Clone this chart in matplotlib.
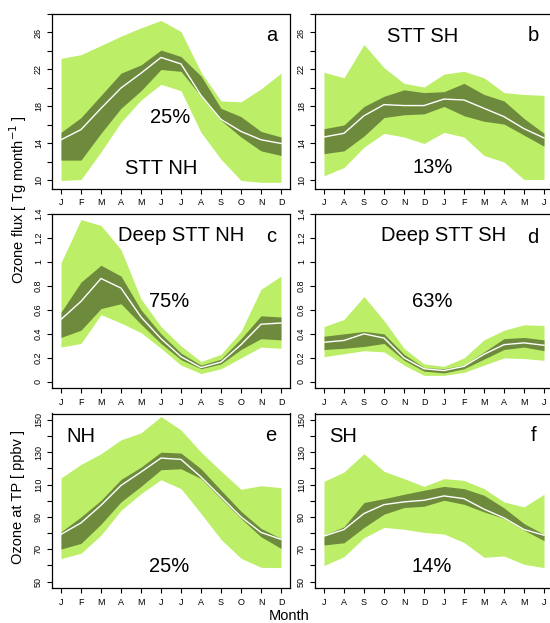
import matplotlib
matplotlib.use("Agg")
import matplotlib.pyplot as plt
import numpy as np

plt.rcParams['font.family'] = ['Liberation Sans', 'DejaVu Sans']

months_nh = ["J", "F", "M", "A", "M", "J", "J", "A", "S", "O", "N", "D"]
months_sh = ["J", "A", "S", "O", "N", "D", "J", "F", "M", "A", "M", "J"]

# Panel a: STT NH [Tg/month]
a_lo_out = [10.0, 10.1, 13.1, 16.3, 18.7, 20.4, 19.7, 15.2, 12.3, 10.0, 9.8, 9.8]
a_hi_out = [23.2, 23.6, 24.6, 25.6, 26.5, 27.3, 26.1, 21.7, 18.6, 18.5, 19.9, 21.6]
a_lo_in = [12.2, 12.2, 15.1, 17.8, 19.7, 22.0, 21.8, 19.1, 16.5, 14.7, 13.2, 12.7]
a_hi_in = [15.2, 16.8, 19.2, 21.6, 22.5, 24.1, 23.4, 21.3, 17.8, 16.9, 15.3, 14.7]
a_med = [14.4, 15.5, 17.8, 20.0, 21.6, 23.3, 22.6, 19.2, 16.6, 15.3, 14.4, 14.0]

# Panel b: STT SH
b_lo_out = [10.5, 11.4, 13.6, 15.1, 14.7, 14.0, 15.2, 14.7, 12.7, 12.0, 10.1, 10.1]
b_hi_out = [21.7, 21.1, 24.7, 22.2, 20.5, 20.1, 21.5, 21.8, 21.1, 19.5, 19.3, 19.2]
b_lo_in = [12.9, 13.2, 14.8, 16.8, 17.1, 17.2, 18.0, 17.0, 16.4, 16.1, 14.9, 13.7]
b_hi_in = [15.6, 16.0, 18.0, 19.1, 19.8, 19.5, 19.6, 20.5, 19.3, 18.6, 16.7, 15.1]
b_med = [14.7, 15.1, 17.0, 18.2, 18.1, 18.1, 18.8, 18.7, 17.8, 16.9, 15.6, 14.6]

# Panel c: Deep STT NH
c_lo_out = [0.29, 0.32, 0.56, 0.49, 0.41, 0.28, 0.14, 0.07, 0.11, 0.20, 0.29, 0.28]
c_hi_out = [0.99, 1.35, 1.30, 1.10, 0.69, 0.46, 0.30, 0.17, 0.23, 0.42, 0.77, 0.88]
c_lo_in = [0.37, 0.43, 0.61, 0.65, 0.48, 0.32, 0.185, 0.11, 0.15, 0.27, 0.36, 0.35]
c_hi_in = [0.58, 0.83, 0.97, 0.88, 0.60, 0.40, 0.24, 0.14, 0.19, 0.36, 0.55, 0.54]
c_med = [0.52, 0.67, 0.86, 0.78, 0.54, 0.36, 0.21, 0.12, 0.165, 0.31, 0.48, 0.49]

# Panel d: Deep STT SH
d_lo_out = [0.21, 0.235, 0.26, 0.25, 0.14, 0.055, 0.055, 0.08, 0.14, 0.20, 0.195, 0.18]
d_hi_out = [0.46, 0.52, 0.71, 0.51, 0.28, 0.15, 0.13, 0.20, 0.35, 0.43, 0.475, 0.47]
d_lo_in = [0.27, 0.28, 0.295, 0.32, 0.18, 0.09, 0.075, 0.11, 0.19, 0.27, 0.29, 0.26]
d_hi_in = [0.38, 0.40, 0.42, 0.40, 0.23, 0.12, 0.11, 0.14, 0.25, 0.36, 0.37, 0.35]
d_med = [0.33, 0.345, 0.40, 0.365, 0.20, 0.11, 0.095, 0.13, 0.23, 0.31, 0.325, 0.305]

# Panel e: Ozone at TP NH [ppbv]
e_lo_out = [64.2, 67.5, 78.7, 94.1, 104.4, 113.0, 107.5, 92.1, 76.1, 64.4, 58.8, 58.6]
e_hi_out = [114.1, 122.5, 129.1, 137.7, 142.0, 152.1, 143.8, 130.1, 118.4, 107.1, 109.3, 108.1]
e_lo_in = [70.1, 73.6, 85.5, 99.3, 108.9, 119.2, 119.8, 113.7, 101.3, 89.0, 77.7, 70.5]
e_hi_in = [80.8, 90.0, 100.3, 113.2, 120.8, 130.1, 129.5, 119.8, 106.5, 93.5, 82.9, 76.7]
e_med = [79.2, 86.3, 97.2, 109.5, 117.8, 126.4, 125.6, 114.7, 102.4, 90.0, 80.4, 76.1]

# Panel f: Ozone at TP SH
f_lo_out = [59.9, 65.4, 77.1, 83.5, 82.4, 80.4, 79.4, 74.2, 65.0, 65.8, 60.7, 58.6]
f_hi_out = [112.0, 117.8, 129.1, 118.2, 113.7, 108.9, 113.7, 112.6, 107.5, 99.3, 96.2, 104.0]
f_lo_in = [72.6, 74.0, 83.5, 91.7, 95.8, 96.6, 100.3, 97.8, 93.1, 89.0, 81.8, 75.3]
f_hi_in = [78.7, 83.9, 98.9, 101.3, 104.0, 106.5, 108.9, 107.5, 103.4, 95.6, 85.9, 79.2]
f_med = [78.1, 82.2, 92.1, 97.6, 99.3, 100.3, 103.0, 101.3, 94.8, 89.4, 82.2, 78.7]

light = "#BCEE68"
dark = "#6E8B3D"

W, H = 550, 623
fig = plt.figure(figsize=(W / 100, H / 100), dpi=100)

def axpos(left, top, w=238, h=174.5):
    return [left / W, 1 - (top + h) / H, w / W, h / H]

panels = [
    dict(pos=axpos(52, 14), m=months_nh, d=(a_lo_out, a_hi_out, a_lo_in, a_hi_in, a_med),
         ylim=(9.13, 28.0), ticks=np.arange(10, 29, 2), lab=[10, 14, 18, 22, 26],
         texts=[("25%", 0.496, 0.408), ("STT NH", 0.458, 0.115), ("a", 0.924, 0.874)]),
    dict(pos=axpos(315, 14), m=months_sh, d=(b_lo_out, b_hi_out, b_lo_in, b_hi_in, b_med),
         ylim=(9.13, 28.0), ticks=np.arange(10, 29, 2), lab=[10, 14, 18, 22, 26],
         texts=[("STT SH", 0.452, 0.87), ("13%", 0.494, 0.122), ("b", 0.916, 0.874)]),
    dict(pos=axpos(52, 213.5), m=months_nh, d=(c_lo_out, c_hi_out, c_lo_in, c_hi_in, c_med),
         ylim=(-0.05, 1.40), ticks=np.round(np.arange(0, 1.41, 0.2), 1), lab=None,
         texts=[("Deep STT NH", 0.542, 0.874), ("75%", 0.494, 0.493), ("c", 0.922, 0.870)]),
    dict(pos=axpos(315, 213.5), m=months_sh, d=(d_lo_out, d_hi_out, d_lo_in, d_hi_in, d_med),
         ylim=(-0.05, 1.40), ticks=np.round(np.arange(0, 1.41, 0.2), 1), lab=None,
         texts=[("Deep STT SH", 0.539, 0.874), ("63%", 0.492, 0.493), ("d", 0.914, 0.863)]),
    dict(pos=axpos(52, 413.5), m=months_nh, d=(e_lo_out, e_hi_out, e_lo_in, e_hi_in, e_med),
         ylim=(46.0, 154.0), ticks=np.arange(50, 151, 10), lab=[50, 70, 90, 110, 130, 150],
         texts=[("NH", 0.12, 0.869), ("25%", 0.494, 0.122), ("e", 0.92, 0.874)]),
    dict(pos=axpos(315, 413.5), m=months_sh, d=(f_lo_out, f_hi_out, f_lo_in, f_hi_in, f_med),
         ylim=(46.0, 154.0), ticks=np.arange(50, 151, 10), lab=[50, 70, 90, 110, 130, 150],
         texts=[("SH", 0.118, 0.869), ("14%", 0.492, 0.122), ("f", 0.918, 0.874)]),
]

def fmt(v):
    s = ("%g" % v)
    return s

for p in panels:
    ax = fig.add_axes(p["pos"])
    x = np.arange(len(p["m"]))
    lo_o, hi_o, lo_i, hi_i, med = p["d"]
    ax.fill_between(x, lo_o, hi_o, color=light, lw=0)
    ax.fill_between(x, lo_i, hi_i, color=dark, lw=0)
    ax.plot(x, med, color="white", lw=1.0)
    ax.set_xlim(-0.45, 11.45)
    ax.set_ylim(*p["ylim"])
    ax.set_xticks(x)
    ax.set_xticklabels(p["m"])
    ax.set_yticks(p["ticks"])
    if p["lab"] is None:
        labels = [fmt(t) for t in p["ticks"]]
    else:
        labels = [fmt(t) if any(abs(t - l) < 1e-9 for l in p["lab"]) else "" for t in p["ticks"]]
    ax.set_yticklabels(labels, rotation=90, va="center")
    ax.tick_params(axis="both", direction="out", length=3.5, width=0.8, labelsize=6.5,
                   color="black")
    ax.tick_params(axis="x", pad=3.5)
    ax.tick_params(axis="y", pad=3.0)
    for s in ax.spines.values():
        s.set_linewidth(0.9)
    for (t, fx, fy) in p["texts"]:
        ax.text(fx, fy, t, transform=ax.transAxes, ha="center", va="center", fontsize=14.5)

fig.text(18 / W, 1 - 200 / H, "Ozone flux [ Tg month$^{-1}$ ]", rotation=90,
         ha="center", va="center", fontsize=10.5)
fig.text(18 / W, 1 - 497 / H, "Ozone at TP [ ppbv ]", rotation=90,
         ha="center", va="center", fontsize=10.5)
fig.text(289 / W, 1 - 616 / H, "Month", ha="center", va="center", fontsize=10.5)

fig.savefig("out.png", dpi=100)
